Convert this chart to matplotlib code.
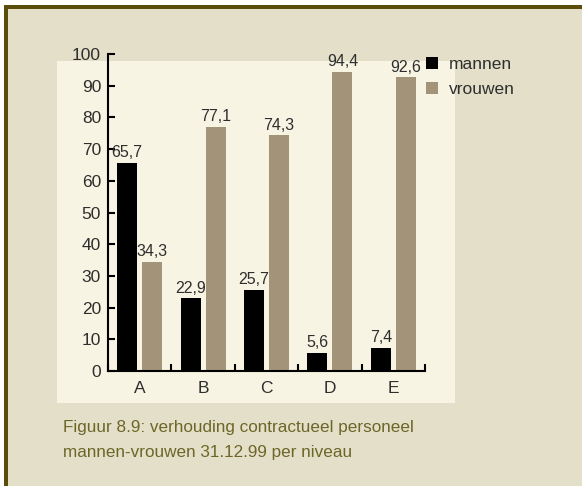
import matplotlib
matplotlib.use("Agg")
import matplotlib.pyplot as plt
from matplotlib.patches import Rectangle
import numpy as np

plt.rcParams['font.family'] = ['Liberation Sans', 'DejaVu Sans']

# Data
niveaus = ["A", "B", "C", "D", "E"]
mannen = [65.7, 22.9, 25.7, 5.6, 7.4]
vrouwen = [34.3, 77.1, 74.3, 94.4, 92.6]
y_ticks = [0, 10, 20, 30, 40, 50, 60, 70, 80, 90, 100]
series_labels = ["mannen", "vrouwen"]
caption = "Figuur 8.9: verhouding contractueel personeel\nmannen-vrouwen 31.12.99 per niveau"

W, H = 582, 486
DPI = 100
fig = plt.figure(figsize=(W / DPI, H / DPI), dpi=DPI, facecolor="white")


def box(x0, y0, x1, y1):
    """Pixel box (top-left origin) -> figure-fraction rect."""
    return (x0 / W, 1 - y1 / H, (x1 - x0) / W, (y1 - y0) / H)


def add_rect(x0, y0, x1, y1, color, z):
    l, b, w, h = box(x0, y0, x1, y1)
    fig.patches.append(Rectangle((l, b), w, h, transform=fig.transFigure,
                                 facecolor=color, edgecolor="none", zorder=z))


outer_bg = "#E3DFC8"
inner_bg = "#F7F4E3"
frame_col = "#5A4C0B"
caption_col = "#6E6628"
text_col = "#2E2E2E"
col_m = "#000000"
col_v = "#A39479"

add_rect(4, 5, W + 2, H + 2, outer_bg, 0)
add_rect(4, 5, W + 2, 9, frame_col, 1)
add_rect(4, 5, 8, H + 2, frame_col, 1)
add_rect(57, 61, 455, 403, inner_bg, 1)

# Plot area: y axis at x=108, x axis at y=371, top (100) at y=54
ax = fig.add_axes(box(108, 54, 425, 371))
ax.set_facecolor("none")
ax.set_zorder(5)

x = np.arange(len(niveaus)) + 0.5
unit = (425 - 108) / 5.0
bw = 20 / unit
off = 12.5 / unit
b1 = ax.bar(x - off, mannen, bw, color=col_m, label=series_labels[0])
b2 = ax.bar(x + off, vrouwen, bw, color=col_v, label=series_labels[1])


def fmt(v):
    return f"{v:.1f}".replace(".", ",")


ax.bar_label(b1, labels=[fmt(v) for v in mannen], padding=2, fontsize=11.5, color=text_col)
ax.bar_label(b2, labels=[fmt(v) for v in vrouwen], padding=2, fontsize=11.5, color=text_col)

ax.set_xlim(0, 5)
ax.set_ylim(0, 100)
for s in ("top", "right"):
    ax.spines[s].set_visible(False)
for s in ("left", "bottom"):
    ax.spines[s].set_linewidth(1.5)
    ax.spines[s].set_color("black")
    ax.spines[s].set_capstyle("projecting")

ax.set_yticks(y_ticks)
ax.tick_params(axis="y", direction="in", length=5, width=1.5, pad=5,
               labelsize=12.5, labelcolor=text_col)
ax.set_xticks(np.arange(0, 6))
ax.set_xticklabels([])
ax.set_xticks(x, minor=True)
ax.set_xticklabels(niveaus, minor=True)
ax.tick_params(axis="x", which="major", direction="in", length=5, width=1.5)
ax.tick_params(axis="x", which="minor", length=0, pad=7, labelsize=12.5, labelcolor=text_col)

leg = ax.legend(loc="upper left", bbox_to_anchor=(426 / W, 1 - 57 / H),
                bbox_transform=fig.transFigure, frameon=False, fontsize=12.5,
                handlelength=0.7, handleheight=0.7, handletextpad=0.6,
                labelspacing=0.58, borderpad=0, borderaxespad=0)
for t in leg.get_texts():
    t.set_color(text_col)

fig.text(63 / W, 1 - 420 / H, caption, ha="left", va="top", fontsize=12.3,
         color=caption_col, linespacing=1.85)

fig.savefig("out.png", dpi=DPI, facecolor="white")
